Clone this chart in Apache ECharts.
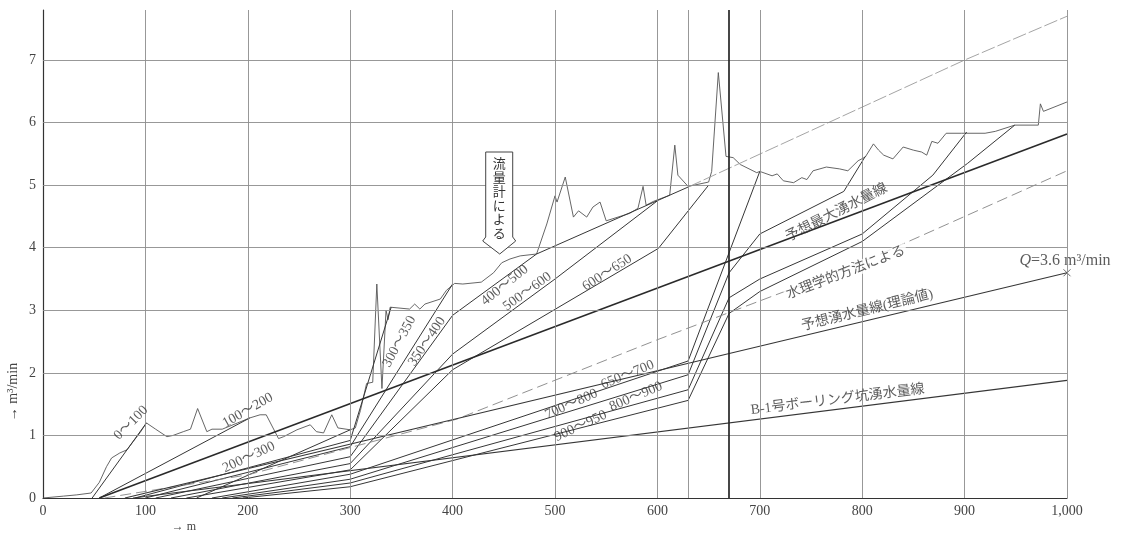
<!DOCTYPE html>
<html>
<head>
<meta charset="utf-8">
<script src="https://cdn.jsdelivr.net/npm/echarts/dist/echarts.min.js"></script>
<style>
  html, body { margin: 0; padding: 0; background: #ffffff; }
  #chart { width: 1128px; height: 533px; }
</style>
</head>
<body>
<div id="chart"></div>
<script>
// Tunnel inflow (m3/min) against face position (m): measured curve, per-section lines and predictions.

const xTicks = [0, 100, 200, 300, 400, 500, 600, 700, 800, 900, 1000];
const yTicks = [1, 2, 3, 4, 5, 6, 7];
const extraVerticals = [630, 670];

// Flow-meter record (流量計による)
const measured = [
  [0, 0], [20, 0.03], [33, 0.05], [47, 0.08], [55, 0.25], [62, 0.5], [67, 0.64], [75, 0.72],
  [82, 0.77], [88, 0.9], [95, 1.05], [101, 1.2], [110, 1.1], [121, 0.98], [127, 1.0], [137, 1.06],
  [144, 1.1], [151, 1.43], [160, 1.06], [165, 1.1], [175, 1.1], [190, 1.2], [202, 1.28], [212, 1.33],
  [218, 1.33], [230, 0.95], [235, 0.98], [248, 1.09], [261, 1.17], [267, 1.06], [274, 1.04],
  [282, 1.33], [288, 1.12], [300, 1.09], [305, 1.12], [310, 1.4], [316, 1.83], [322, 1.85],
  [326, 3.42], [331, 1.75], [335, 3.0], [337, 2.85], [339, 3.05], [358, 3.02], [363, 3.1],
  [368, 3.02], [373, 3.1], [388, 3.18], [394, 3.32], [402, 3.43], [410, 3.42], [428, 3.45],
  [440, 3.6], [448, 3.76], [456, 3.82], [466, 3.87], [482, 3.9], [492, 4.38], [500, 4.83],
  [502, 4.73], [510, 5.13], [518, 4.49], [523, 4.59], [531, 4.49], [537, 4.65], [544, 4.73],
  [550, 4.43], [573, 4.55], [581, 4.63], [586, 4.98], [589, 4.68], [596, 4.74], [612, 4.84],
  [617, 5.64], [620, 5.16], [630, 4.98], [650, 5.05], [653, 5.22], [659.5, 6.8], [667, 5.46],
  [674, 5.44], [681, 5.33], [697, 5.2], [700, 5.22], [712, 5.15], [717, 5.18], [723, 5.07],
  [733, 5.04], [741, 5.12], [746, 5.09], [752, 5.23], [765, 5.29], [778, 5.26], [786, 5.23],
  [796, 5.39], [803, 5.45], [811, 5.66], [816, 5.56], [821, 5.48], [830, 5.42], [840, 5.61],
  [850, 5.56], [858, 5.53], [863, 5.48], [868, 5.7], [874, 5.67], [882, 5.83], [897, 5.83],
  [920, 5.83], [930, 5.86], [949, 5.96], [972, 5.96], [974, 6.3], [977, 6.18], [1000, 6.33]
];

// Section lines
const sec0to100 = [[48, 0], [101, 1.2]];
const sec100to200 = [[55, 0], [202, 1.28]];
const sec200to300 = [[150, 0], [300, 1.09]];
const sec300to350 = [[90, 0], [300, 0.92], [340, 3.05]];
const sec350to400 = [[100, 0], [300, 0.82], [400, 3.42]];
const sec400to500 = [[110, 0], [300, 0.66], [400, 2.92], [482, 3.9], [630, 4.97]];
const sec400to500Ext = [[630, 4.97], [900, 7.0], [1000, 7.7]];
const sec500to600 = [[125, 0], [300, 0.55], [400, 2.3], [500, 3.5], [600, 4.75]];
const sec600to650 = [[140, 0], [300, 0.45], [400, 2.05], [601, 3.99], [650, 5.0]];
const sec650to700 = [[165, 0], [300, 0.38], [630, 2.19], [700, 5.22]];
const sec700to800 = [[175, 0], [300, 0.3], [630, 1.97], [670, 3.6], [700, 4.22], [782, 4.9], [803, 5.46]];
const sec800to900 = [[185, 0], [300, 0.24], [630, 1.73], [670, 3.2], [700, 3.5], [800, 4.22], [869, 5.16], [902, 5.85]];
const sec900to950 = [[195, 0], [300, 0.18], [630, 1.56], [670, 2.95], [700, 3.3], [800, 4.1], [903, 5.35], [949, 5.96]];

// Prediction lines
const maxInflowLine = [[55, 0], [1000, 5.82]];
const hydraulicLine = [[60, 0], [200, 0.37], [404, 1.26], [600, 2.53], [800, 3.77], [1000, 5.23]];
const theoryLine = [[80, 0], [1000, 3.6]];
const boringLine = [[88, 0], [1000, 1.88]];
const theoryEnd = [[1000, 3.6]];

// Line captions: text, x, y, angle, breaks the line beneath
const captions = [
  ['0～100', 86, 1.2, 45, false],
  ['100～200', 200, 1.4, 30, false],
  ['200～300', 201, 0.65, 25, false],
  ['300～350', 348, 2.5, 62, false],
  ['350～400', 375, 2.5, 56, false],
  ['400～500', 451, 3.4, 39, false],
  ['500～600', 473, 3.3, 36, false],
  ['600～650', 551, 3.6, 33, false],
  ['650～700', 571, 1.97, 22, false],
  ['700～800', 516, 1.5, 24, false],
  ['800～900', 579, 1.62, 23, false],
  ['900～950', 525, 1.15, 25, false],
  ['予想最大湧水量線', 775, 4.56, 27, false],
  ['水理学的方法による', 784, 3.6, 21, true],
  ['予想湧水量線(理論値)', 805, 3.0, 14, false],
  ['B-1号ボーリング坑湧水量線', 776, 1.57, 7, false]
];

const meterNoteTip = [[446, 3.9]];
const meterNoteText = '流量計による';

const SERIF = '"Liberation Serif", "DejaVu Serif", "Noto Sans CJK JP", serif';
const INK = '#363636';

function plain(name, data, width, color, type) {
  return {
    name: name, type: 'line', data: data, symbol: 'none', silent: true, z: 3,
    lineStyle: { width: width || 1, color: color || INK, type: type || 'solid' },
    animation: false
  };
}

const GRID = { color: '#8c8c8c', width: 0.9, type: 'solid' };
const gridLines = [];
yTicks.forEach(v => gridLines.push({ yAxis: v, lineStyle: GRID }));
xTicks.slice(1).forEach(v => gridLines.push({ xAxis: v, lineStyle: GRID }));
gridLines.push({ xAxis: extraVerticals[0], lineStyle: GRID });
gridLines.push({ xAxis: extraVerticals[1], lineStyle: { color: '#262626', width: 1.7, type: 'solid' } });

const chart = echarts.init(document.getElementById('chart'), null, { renderer: 'canvas' });

chart.setOption({
  animation: false,
  backgroundColor: '#ffffff',
  grid: { left: 43, right: 61, top: 10, bottom: 35 },
  xAxis: {
    type: 'value', min: 0, max: 1000, interval: 100,
    axisLine: { show: true, lineStyle: { color: '#333', width: 1.2 } },
    axisTick: { show: false },
    splitLine: { show: false },
    axisLabel: {
      margin: 6, color: '#444', fontFamily: SERIF, fontSize: 14,
      formatter: v => (v === 1000 ? '1,000' : String(v))
    }
  },
  yAxis: {
    type: 'value', min: 0, max: 7.8, interval: 1,
    axisLine: { show: true, lineStyle: { color: '#333', width: 1.2 } },
    axisTick: { show: false },
    splitLine: { show: false },
    axisLabel: {
      margin: 7, color: '#444', fontFamily: SERIF, fontSize: 14,
      formatter: v => (Number.isInteger(v) ? String(v) : '')
    }
  },
  graphic: [
    {
      type: 'text', x: 13, y: 392, rotation: Math.PI / 2,
      style: { text: '→ m³/min', fill: '#444', font: '14px ' + SERIF, align: 'center', verticalAlign: 'middle' }
    },
    {
      type: 'text', x: 184, y: 527,
      style: { text: '→ m', fill: '#444', font: '12px ' + SERIF, align: 'center', verticalAlign: 'middle' }
    }
  ],
  series: [
    {
      name: 'grid', type: 'line', data: [], silent: true, z: 1,
      markLine: { silent: true, symbol: 'none', animation: false, label: { show: false }, data: gridLines }
    },
    plain('流量計による', measured, 0.9, '#555'),
    plain('0～100', sec0to100, 1),
    plain('100～200', sec100to200, 1),
    plain('200～300', sec200to300, 1),
    plain('300～350', sec300to350, 1),
    plain('350～400', sec350to400, 1),
    plain('400～500', sec400to500, 1),
    plain('400～500 延長', sec400to500Ext, 0.9, '#9a9a9a', [14, 3]),
    plain('500～600', sec500to600, 1),
    plain('600～650', sec600to650, 1),
    plain('650～700', sec650to700, 1),
    plain('700～800', sec700to800, 1),
    plain('800～900', sec800to900, 1),
    plain('900～950', sec900to950, 1),
    plain('予想最大湧水量線', maxInflowLine, 1.6, '#2a2a2a'),
    plain('水理学的方法による', hydraulicLine, 0.9, '#858585', [11, 5]),
    plain('予想湧水量線(理論値)', theoryLine, 1.1),
    plain('B-1号ボーリング坑湧水量線', boringLine, 1.1),
    {
      name: 'Q', type: 'scatter', data: theoryEnd, silent: true, z: 4,
      symbol: 'path://M0,0L10,10M10,0L0,10', symbolSize: 7,
      itemStyle: { color: 'none', borderColor: '#444', borderWidth: 1 },
      label: {
        show: true, position: 'top', distance: 0, offset: [-2, 2], color: '#333',
        fontFamily: SERIF, fontSize: 16,
        formatter: '{i|Q}=3.6 m³/min',
        rich: { i: { fontStyle: 'italic', fontFamily: SERIF, fontSize: 16, color: '#333' } }
      }
    },
    {
      name: 'captions', type: 'scatter', silent: true, z: 5, symbolSize: 0,
      data: captions.map(c => ({
        value: [c[1], c[2]],
        label: c[4]
          ? { rotate: c[3], formatter: c[0], backgroundColor: '#ffffff', padding: [0, 2] }
          : { rotate: c[3], formatter: c[0] }
      })),
      label: {
        show: true, position: 'inside', color: '#333',
        fontFamily: SERIF, fontSize: 14
      }
    },
    {
      name: 'meterNote', type: 'custom', silent: true, z: 6, data: meterNoteTip,
      renderItem: function (params, api) {
        const tip = api.coord([api.value(0), api.value(1)]);
        const tx = tip[0], ty = tip[1];
        const L = tx - 14, R = tx + 13, top = ty - 102, bot = ty - 17;
        return {
          type: 'group',
          children: [
            {
              type: 'polygon',
              shape: { points: [[L, top], [R, top], [R, bot], [R + 3, bot + 4], [tx, ty], [L - 3, bot + 4], [L, bot]] },
              style: { fill: '#ffffff', stroke: '#444', lineWidth: 1 }
            },
            {
              type: 'text',
              style: {
                x: (L + R) / 2, y: top + 4,
                text: meterNoteText.split('').join('\n'),
                font: '13px "Noto Sans CJK JP", sans-serif',
                lineHeight: 14, fill: '#333', align: 'center', verticalAlign: 'top'
              }
            }
          ]
        };
      }
    }
  ]
});
</script>
</body>
</html>
